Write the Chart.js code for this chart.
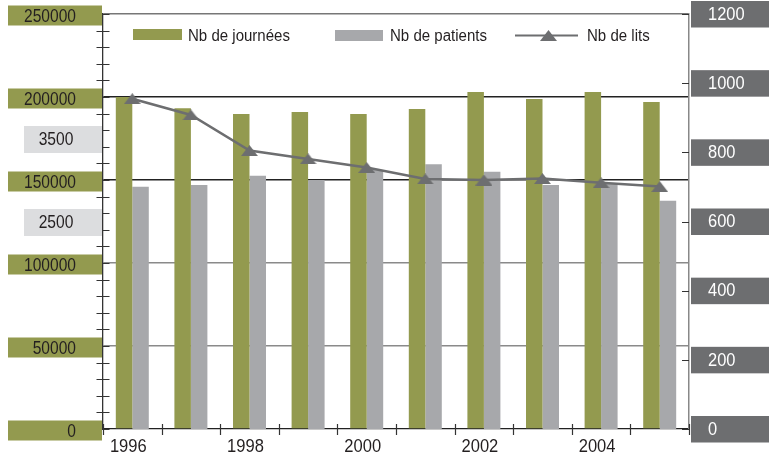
<!DOCTYPE html>
<html>
<head>
<meta charset="utf-8">
<script src="https://cdn.jsdelivr.net/npm/chart.js@4"></script>
<style>
  body { margin: 0; background: #fff; }
  canvas { display: block; }
</style>
</head>
<body>
<canvas id="chart" width="770" height="455"></canvas>
<script>
// Données
const years = ['1996', '1997', '1998', '1999', '2000', '2001', '2002', '2003', '2004', '2005'];
const journees = [200000, 193200, 189800, 191000, 189800, 192800, 203000, 198800, 203000, 197000];
const patients = [2920, 2940, 3050, 3000, 3120, 3190, 3100, 2940, 2965, 2750];
const lits = [955, 908, 805, 781, 756, 723, 720, 724, 712, 701];

// graduations affichées dans les cartouches
const journeeTicks = [0, 50000, 100000, 150000, 200000, 250000];
const patientTicks = [2500, 3500];
const litTicks = [0, 200, 400, 600, 800, 1000, 1200];

const OLIVE = '#939a4f';
const GREY = '#a7a8ab';
const DARK = '#6d6e70';
const TEXT = '#231f20';
const FONT = '"Liberation Sans", Arial, sans-serif';

// triangle aplati pour les points "Nb de lits"
function makeTriangle(w, h) {
    const c = document.createElement('canvas');
    c.width = w; c.height = h;
    const g = c.getContext('2d');
    g.fillStyle = DARK;
    g.beginPath();
    g.moveTo(w / 2, 0);
    g.lineTo(w, h);
    g.lineTo(0, h);
    g.closePath();
    g.fill();
    return c;
}
const tri = makeTriangle(17, 11);

// texte un peu condensé (police de type Helvetica Condensed)
function narrowText(ctx, str, x, y, size, sx, align, color) {
    ctx.save();
    ctx.translate(x, y);
    ctx.scale(sx, 1);
    ctx.font = size + 'px ' + FONT;
    ctx.textAlign = align;
    ctx.textBaseline = 'alphabetic';
    ctx.fillStyle = color;
    ctx.fillText(str, 0, 0);
    ctx.restore();
}

// petits traits qui traversent les axes
const crossTicks = {
    id: 'crossTicks',
    afterDatasetsDraw(chart) {
        const ctx = chart.ctx;
        const { y, yl, x } = chart.scales;
        const area = chart.chartArea;
        ctx.save();
        ctx.strokeStyle = '#333';
        ctx.lineWidth = 1.2;
        ctx.beginPath();
        for (let v = 0; v <= 250000; v += 10000) {
            const py = Math.round(y.getPixelForValue(v)) + 0.5;
            ctx.moveTo(area.left - 6.5, py);
            ctx.lineTo(area.left + 6.5, py);
        }
        for (const v of litTicks) {
            const py = Math.round(yl.getPixelForValue(v)) + 0.5;
            ctx.moveTo(area.right - 7, py);
            ctx.lineTo(area.right, py);
        }
        for (let i = 0; i <= years.length; i++) {
            const px = Math.round(x.getPixelForValue(i - 0.5)) + 0.5;
            ctx.moveTo(px, area.bottom - 5);
            ctx.lineTo(px, area.bottom + 6);
        }
        ctx.stroke();
        ctx.restore();
    }
};

// cartouches de couleur derrière les graduations, années, légende
const boxLabels = {
    id: 'boxLabels',
    afterDraw(chart) {
        const ctx = chart.ctx;
        const { x, y, yp, yl } = chart.scales;
        ctx.save();

        patientTicks.forEach(v => {
            const py = yp.getPixelForValue(v);
            ctx.fillStyle = '#dcdddf';
            ctx.fillRect(24, py - 12.5, 78, 27);
            narrowText(ctx, String(v), 56, py + 6.4, 18.6, 0.84, 'center', TEXT);
        });

        journeeTicks.forEach(v => {
            const py = y.getPixelForValue(v);
            ctx.fillStyle = OLIVE;
            ctx.fillRect(8, py - 8.5, 94, 20);
            narrowText(ctx, String(v), 76, py + 8, 17.7, 0.88, 'right', TEXT);
        });

        litTicks.forEach(v => {
            const py = yl.getPixelForValue(v);
            ctx.fillStyle = DARK;
            ctx.fillRect(691, py - 13, 78, 26.5);
            narrowText(ctx, String(v), 708, py + 5.7, 18.6, 0.885, 'left', '#fff');
        });

        // années (une sur deux)
        years.forEach((yr, i) => {
            if (i % 2 !== 0) return;
            narrowText(ctx, yr, x.getPixelForValue(i) - 4, 452, 19, 0.87, 'center', TEXT);
        });

        // légende
        ctx.fillStyle = OLIVE;
        ctx.fillRect(133, 29, 49, 11);
        ctx.fillStyle = GREY;
        ctx.fillRect(335, 30, 48, 11);
        ctx.strokeStyle = DARK;
        ctx.lineWidth = 2;
        ctx.beginPath();
        ctx.moveTo(515, 35.5);
        ctx.lineTo(578, 35.5);
        ctx.stroke();
        ctx.drawImage(tri, 540, 30);
        narrowText(ctx, 'Nb de journées', 188, 40.7, 17.3, 0.87, 'left', TEXT);
        narrowText(ctx, 'Nb de patients', 390, 40.7, 17.3, 0.87, 'left', TEXT);
        narrowText(ctx, 'Nb de lits', 587, 40.7, 17.3, 0.87, 'left', TEXT);
        ctx.restore();
    }
};

function gridColor(ctx) {
    const v = ctx.tick ? ctx.tick.value : 0;
    if (v === 250000) return '#777';
    if (v === 0 || v % 50000 !== 0) return 'rgba(0,0,0,0)';
    return v >= 150000 ? '#222' : '#8a8a8a';
}

new Chart(document.getElementById('chart'), {
    data: {
        labels: years,
        datasets: [
            {
                type: 'line',
                label: 'Nb de lits',
                data: lits,
                yAxisID: 'yl',
                borderColor: DARK,
                borderWidth: 2.5,
                pointStyle: tri,
                pointRadius: 8,
                pointHoverRadius: 8,
                tension: 0,
                order: 1
            },
            {
                type: 'bar',
                label: 'Nb de journées',
                data: journees,
                yAxisID: 'y',
                backgroundColor: OLIVE,
                order: 2
            },
            {
                type: 'bar',
                label: 'Nb de patients',
                data: patients,
                yAxisID: 'yp',
                backgroundColor: GREY,
                order: 3
            }
        ]
    },
    options: {
        responsive: false,
        devicePixelRatio: 1,
        animation: false,
        layout: { padding: { top: 14, left: 0, right: 0, bottom: 0 } },
        datasets: {
            bar: { categoryPercentage: 0.563, barPercentage: 1 }
        },
        plugins: {
            legend: { display: false },
            tooltip: { enabled: false }
        },
        scales: {
            x: {
                grid: { display: true, offset: true, drawOnChartArea: false, drawTicks: false },
                border: { color: '#222', width: 1.3 },
                ticks: { display: false },
                afterFit: s => { s.height = 26; }
            },
            y: {
                position: 'left',
                min: 0,
                max: 250000,
                ticks: { stepSize: 10000, display: false },
                grid: { color: gridColor, lineWidth: 1.4, drawTicks: false },
                border: { color: '#333', width: 1.3 },
                afterFit: s => { s.width = 103; }
            },
            yp: {
                position: 'left',
                min: 0,
                max: 5000,
                display: false
            },
            yl: {
                position: 'right',
                min: 0,
                max: 1200,
                ticks: { stepSize: 200, display: false },
                grid: { drawOnChartArea: false, drawTicks: false },
                border: { color: '#888', width: 1.5 },
                afterFit: s => { s.width = 81; }
            }
        }
    },
    plugins: [crossTicks, boxLabels]
});
</script>
</body>
</html>
